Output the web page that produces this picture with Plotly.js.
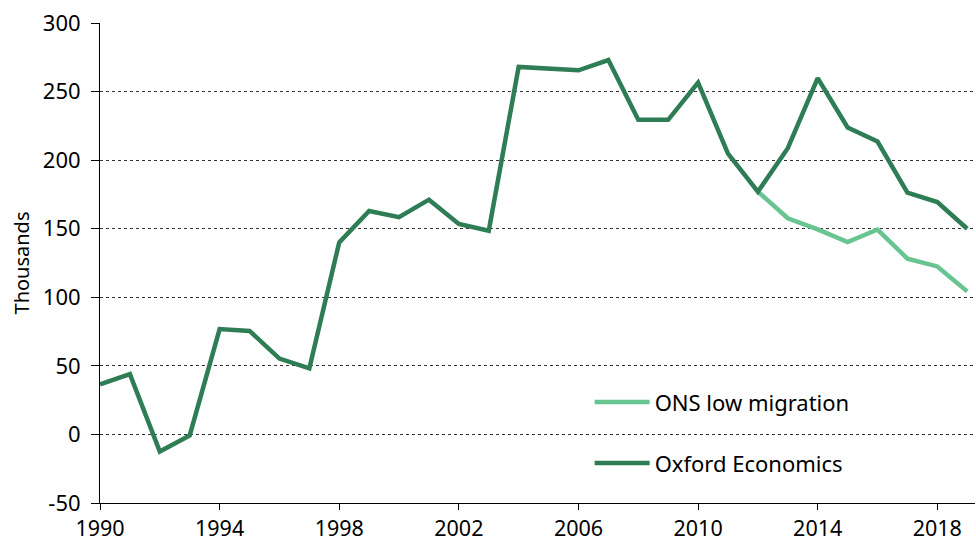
<!DOCTYPE html>
<html>
<head>
<meta charset="utf-8">
<script src="https://cdn.plot.ly/plotly-3.0.1.min.js"></script>
<style>
html,body{margin:0;padding:0;background:#fff;}
#chart{width:976px;height:541px;}
</style>
</head>
<body>
<div id="chart"></div>
<script>
const years = [1990,1991,1992,1993,1994,1995,1996,1997,1998,1999,2000,2001,2002,2003,2004,2005,2006,2007,2008,2009,2010,2011,2012,2013,2014,2015,2016,2017,2018,2019];
const oxford = [36.5,44,-12.5,-0.7,76.8,75.5,55.3,48.2,140,162.9,158.4,171.2,153.5,148.5,268,267.1,265.5,273,229.4,229.4,256.5,204.8,177,208.7,259.8,223.8,213.6,176.3,169.4,150];
const onsYears = [2012,2013,2014,2015,2016,2017,2018,2019];
const onsLow = [177,157.6,149.5,140.2,149.4,128.2,122.5,104.3];
const seriesNames = ["ONS low migration","Oxford Economics"];
const xTicks = [1990,1994,1998,2002,2006,2010,2014,2018];
const yTicks = [-50,0,50,100,150,200,250,300];

const darkGreen = "#2e7d55";
const lightGreen = "#68c592";
const fontFam = "Noto Sans, Open Sans, sans-serif";

const traces = [
  {x: onsYears, y: onsLow, name: seriesNames[0], type: "scatter", mode: "lines",
   line: {color: lightGreen, width: 4.5}, legend: "legend"},
  {x: years, y: oxford, name: seriesNames[1], type: "scatter", mode: "lines",
   line: {color: darkGreen, width: 4.5}, legend: "legend2"}
];

const legendCommon = {
  xanchor: "left", yanchor: "middle", bgcolor: "rgba(0,0,0,0)",
  font: {family: fontFam, size: 22, color: "#000"}, itemwidth: 55
};

const layout = {
  width: 976, height: 541,
  margin: {l: 100, r: 1, t: 23, b: 38},
  paper_bgcolor: "#fff", plot_bgcolor: "#fff",
  font: {family: fontFam, color: "#000"},
  showlegend: true,
  legend: Object.assign({x: 0.5596, y: 0.21}, legendCommon),
  legend2: Object.assign({x: 0.5596, y: 0.083}, legendCommon),
  xaxis: {
    range: [1990, 2019.26], tickvals: xTicks, ticktext: xTicks.map(String),
    showgrid: false, zeroline: false, showline: true, linecolor: "#000", linewidth: 1.3,
    ticks: "outside", ticklen: 6, tickcolor: "#000", tickwidth: 1,
    tickfont: {family: fontFam, size: 21.5, color: "#000"}
  },
  yaxis: {
    range: [-50, 300], tickvals: yTicks, ticktext: yTicks.map(v => String(v) + "\u00a0"),
    showgrid: true, gridcolor: "#333", griddash: "dot", gridwidth: 1,
    zeroline: false, showline: true, linecolor: "#000", linewidth: 1.3,
    ticks: "outside", ticklen: 8, tickcolor: "#000", tickwidth: 1,
    automargin: true,
    tickfont: {family: fontFam, size: 22, color: "#000"},
    title: {text: "Thousands", font: {family: fontFam, size: 20, color: "#000"}, standoff: 7}
  }
};

Plotly.newPlot("chart", traces, layout, {displayModeBar: false, staticPlot: true});
</script>
</body>
</html>
